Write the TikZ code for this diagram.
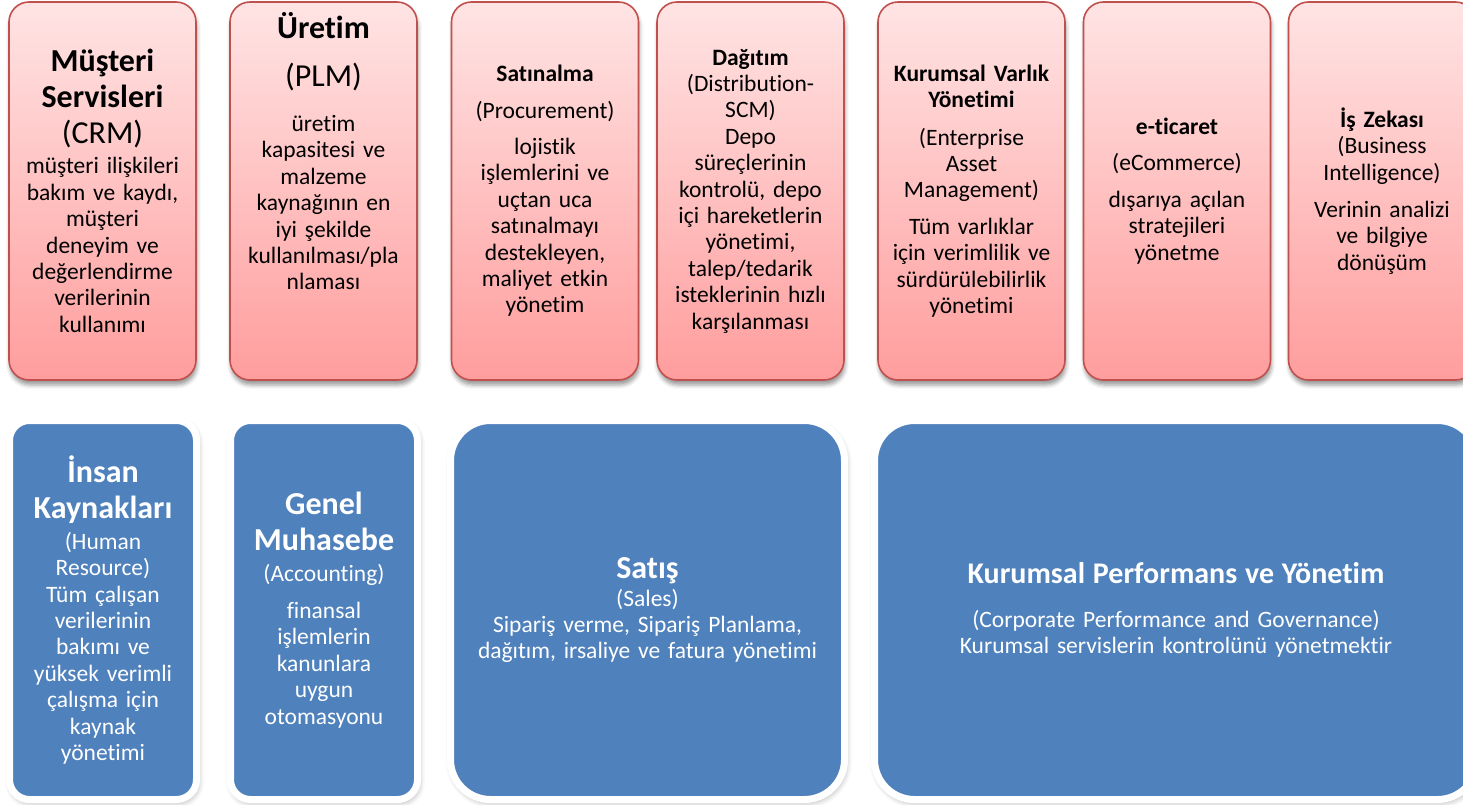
\documentclass[tikz,border=0pt]{standalone}
\usepackage{fontspec}
\setmainfont[Ligatures=NoCommon]{Carlito}
\usepackage{tikz}
\usetikzlibrary{shadows.blur}
\definecolor{redline}{HTML}{C0504D}
\definecolor{pinktop}{HTML}{FFE4E4}
\definecolor{pinkbot}{HTML}{FF9D9D}
\definecolor{bluefill}{HTML}{4F81BD}
\newcommand{\bodyfont}{\fontsize{23.5}{26.4}\selectfont}
\newcommand{\titlefont}{\fontsize{32}{36}\selectfont\bfseries}

\begin{document}
\begin{tikzpicture}[x=1pt, y=-1pt,
		every node/.style={inner sep=0pt, outer sep=0pt},
		redbox/.style={draw=redline, line width=1.6pt, rounded corners=20pt,
			top color=pinktop, bottom color=pinkbot,
			minimum width=187pt, minimum height=378pt,
			blur shadow={shadow xshift=1pt, shadow yshift=-5pt, shadow blur radius=4pt, shadow opacity=40}},
		bluebox/.style={draw=white, line width=7pt, fill=bluefill, rounded corners=#1,
			minimum height=379pt,
			blur shadow={shadow xshift=1.5pt, shadow yshift=-3pt, shadow blur radius=6pt, shadow opacity=35}},
		redtext/.style={text width=200pt, align=center, font=\bodyfont},
		bluetext/.style={align=center, text=white, font=\bodyfont}]
		\useasboundingbox (0,0) rectangle (1463,805);
		
		\node[redbox] (crm) at (102.5,191) {};
		\node[redbox] (plm) at (323.5,191) {};
		\node[redbox] (satinalma) at (545,191) {};
		\node[redbox] (dagitim) at (750.5,191) {};
		\node[redbox] (eam) at (971.5,191) {};
		\node[redbox] (eticaret) at (1177,191) {};
		\node[redbox] (bi) at (1382,191) {};
		
		\node[redtext] (crmtext) at (crm) {{\titlefont Müşteri\\Servisleri\\\mdseries (CRM)\par}\vspace{3.6pt}
			müşteri ilişkileri\\bakım ve kaydı,\\müşteri\\deneyim ve\\değerlendirme\\verilerinin\\kullanımı};
		\node[redtext] (plmtext) at ([yshift=40pt]plm.center) {{\titlefont Üretim\\[12pt]\mdseries (PLM)\par}\vspace{19pt}
			üretim\\kapasitesi ve\\malzeme\\kaynağının en\\iyi şekilde\\kullanılması/pla\\nlaması};
		\node[redtext] (satinalmatext) at (satinalma) {\textbf{Satınalma}\\[10pt](Procurement)\\[10pt]lojistik\\işlemlerini ve\\uçtan uca\\satınalmayı\\destekleyen,\\maliyet etkin\\yönetim};
		\node[redtext] (dagitimtext) at (dagitim) {\textbf{Dağıtım}\\(Distribution-\\SCM)\\Depo\\süreçlerinin\\kontrolü, depo\\içi hareketlerin\\yönetimi,\\talep/tedarik\\isteklerinin hızlı\\karşılanması};
		\node[redtext] (eamtext) at (eam) {\textbf{Kurumsal Varlık}\\\textbf{Yönetimi}\\[11pt](Enterprise\\Asset\\Management)\\[10pt]Tüm varlıklar\\için verimlilik ve\\sürdürülebilirlik\\yönetimi};
		\node[redtext] (eticarettext) at (eticaret) {\textbf{e-ticaret}\\[10pt](eCommerce)\\[10pt]dışarıya açılan\\stratejileri\\yönetme};
		\node[redtext] (bitext) at (bi) {\textbf{İş Zekası}\\(Business\\Intelligence)\\[11pt]Verinin analizi\\ve bilgiye\\dönüşüm};
		
		\node[bluebox=20pt, minimum width=187pt] (ik) at (103,610) {};
		\node[bluebox=20pt, minimum width=187pt] (muhasebe) at (324,610) {};
		\node[bluebox=40pt, minimum width=394pt] (satis) at (647.5,610) {};
		\node[bluebox=40pt, minimum width=603pt] (cpm) at (1176,610) {};
		
		\node[bluetext, text width=200pt] (iktext) at (ik) {{\titlefont İnsan\\Kaynakları\par}\vspace{4.6pt}
			(Human\\Resource)\\Tüm çalışan\\verilerinin\\bakımı ve\\yüksek verimli\\çalışma için\\kaynak\\yönetimi};
		\node[bluetext, text width=200pt] (muhasebetext) at (muhasebe) {{\titlefont Genel\\Muhasebe\par}\vspace{4.6pt}
			(Accounting)\\[10.6pt]finansal\\işlemlerin\\kanunlara\\uygun\\otomasyonu};
		\node[bluetext, text width=400pt] (satistext) at (satis) {{\titlefont Satış\par}\vspace{1.6pt}
			(Sales)\\Sipariş verme, Sipariş Planlama,\\dağıtım, irsaliye ve fatura yönetimi};
		\node[bluetext, text width=600pt] (cpmtext) at (cpm) {{\fontsize{30}{36}\selectfont\bfseries Kurumsal Performans ve Yönetim\par}\vspace{17.6pt}
			(Corporate Performance and Governance)\\Kurumsal servislerin kontrolünü yönetmektir};
		
	\end{tikzpicture}
\end{document}
